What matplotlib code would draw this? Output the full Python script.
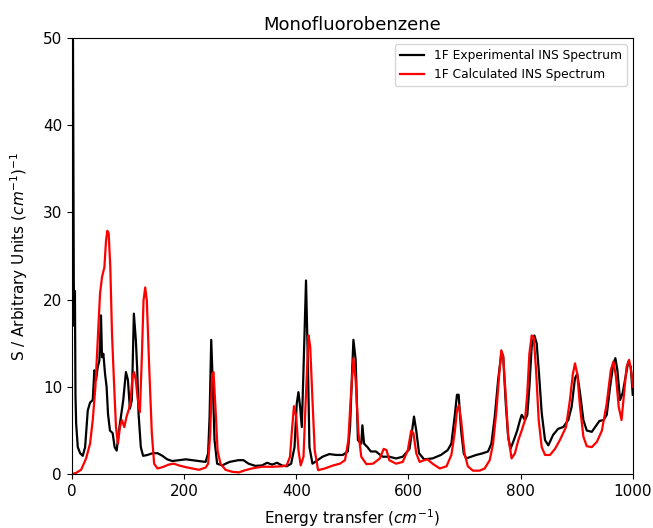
import matplotlib
matplotlib.use('Agg')
import matplotlib.pyplot as plt

# 실험 INS 스펙트럼 (검정)
exp_x = [0.5, 1.5, 2.5, 3.5, 4.5, 5.5, 6.5, 7.7, 10.6, 14.8, 19.5, 23.7, 28.4, 32.5, 37.3,
         40.2, 43.2, 46.2, 49.1, 52, 53.8, 56.2, 59.2, 62, 64.5, 68, 72.8, 76.3, 80, 83.4,
         87.6, 91.7, 96.4, 100, 103.5, 107, 110.6, 114.2, 116.6, 119, 123, 127, 135, 144,
         153, 161.5, 170, 179, 191, 203, 215, 226.6, 238.5, 243, 245.6, 248.5, 251.5, 254.4,
         259, 268, 281, 297, 306, 315, 327, 339, 348, 357, 366, 374.5, 383, 391, 397, 401,
         404, 407, 410, 413, 416, 417.5, 419, 421, 423.6, 429, 447, 459, 471, 483, 492, 496,
         500, 502, 506, 510, 516, 518, 521, 527, 533, 542, 554, 566, 578, 590, 602, 606, 610,
         614, 619, 628, 643, 658, 670, 676.6, 682.5, 686.6, 689.6, 694, 698.6, 703, 712, 721,
         733, 742, 748, 754, 760, 766, 769, 773.6, 777.8, 782, 788, 794, 799, 802, 808, 812,
         815.7, 819.8, 824.6, 828.7, 832.9, 837.7, 843.6, 849.5, 858, 867, 876, 885, 891, 897,
         901, 906, 912, 918, 927, 933, 940.6, 948, 953.6, 959.6, 965.5, 969, 972.6, 977.4, 982,
         986.8, 992, 996.4, 1000]
exp_y = [17, 60, 42, 22, 17, 21, 9, 5.8, 3.1, 2.4, 2.1, 3.1, 7.3, 8.2, 8.5,
         11.9, 10.8, 12.3, 13, 18.2, 13.4, 13.8, 11.5, 10, 6.9, 5, 4.7, 3.1, 2.7, 4.7,
         6.6, 8.5, 11.7, 10.8, 7.5, 8.5, 18.4, 15.3, 11.9, 6.9, 3.1, 2.1, 2.2, 2.4,
         2.4, 2.1, 1.7, 1.5, 1.6, 1.7, 1.6, 1.5, 1.4, 2.4, 6.6, 15.4, 10, 3.9,
         1.2, 1.0, 1.4, 1.6, 1.6, 1.2, 0.95, 1.0, 1.3, 1.1, 1.3, 1.0, 0.9, 1.2, 3.1, 8.1,
         9.4, 7.7, 5.4, 11.9, 19, 22.2, 18, 12.3, 3.1, 1.2, 2.0, 2.3, 2.2, 2.2, 2.6, 5.4,
         12.3, 15.4, 13.1, 3.9, 3.5, 5.6, 3.5, 3.1, 2.6, 2.6, 2.0, 2.0, 1.8, 2.0, 2.9, 4.7, 6.6,
         5.0, 2.4, 1.7, 1.8, 2.2, 2.75, 3.5, 6.6, 9.1, 9.1, 5.0, 2.4, 1.8, 2.0, 2.2,
         2.4, 2.6, 3.5, 6.6, 10.8, 14.0, 13.5, 8.1, 4.3, 2.9, 3.9, 5.0, 6.2, 6.8, 6.2, 6.8,
         10, 14.6, 15.9, 15.0, 11.5, 7.0, 3.9, 3.3, 4.5, 5.2, 5.4, 6.2, 7.7, 11.0,
         11.5, 9.3, 6.2, 5.0, 4.85, 5.4, 6.1, 6.2, 6.8, 10, 12.7, 13.3, 11.9, 8.5, 9.3,
         11, 12.9, 12.3, 9.1]

# 계산 INS 스펙트럼 (빨강)
calc_x = [0, 7.7, 16.6, 25.4, 32.5, 37.3, 42, 46.2, 50.3, 53.8, 58, 61, 63.3, 65.7, 68.6,
          71.6, 75, 78.7, 82.2, 85.8, 89.3, 93.5, 97.6, 102, 105, 108, 111, 114, 117.7, 121.3,
          124.8, 127.8, 130.8, 133.7, 137.9, 142.6, 146.7, 152.7, 161.5, 173, 182, 191, 203,
          215, 226.6, 238.5, 243, 246.7, 250, 252.6, 256, 259.8, 265, 274, 285.8, 297.6, 309,
          321, 339, 357, 374.5, 383, 389, 392, 396, 400, 404, 408, 413, 417, 422, 425, 429,
          433, 439, 451, 466, 478, 487, 493, 497, 502, 506, 511, 516, 525, 537, 549, 556, 561,
          566, 578, 590, 599, 605, 609, 614, 620, 628, 634, 643, 656, 668, 676.6, 682.5, 686.6,
          690, 694, 700, 706, 715, 727, 736, 745, 751, 757, 762, 765.6, 769, 773.6, 778, 784,
          790, 796, 802, 808, 812, 815.7, 819.8, 823.5, 827.6, 832.3, 837.7, 843.6, 852.5,
          861.4, 870, 881, 888, 893, 897, 901, 906, 912, 918, 927, 936, 945, 953.6, 960.8,
          965.5, 970, 975, 980, 984.6, 989, 993.5, 998, 1000]
calc_y = [0, 0.15, 0.5, 1.8, 3.5, 6.2, 10, 15.3, 20.7, 22.6, 23.7, 26.8, 27.9, 27.6, 23.7,
          16.1, 10.8, 5.4, 3.5, 5.4, 6.2, 5.4, 6.6, 7.5, 8.5, 11.1, 11.7, 10.8, 8.5, 7.1,
          13.4, 19.9, 21.4, 19.9, 12.3, 4.7, 1.2, 0.65, 0.8, 1.1, 1.2, 1.0, 0.8,
          0.65, 0.5, 0.75, 1.2, 4.7, 11.5, 11.7, 7.7, 2.7, 1.2, 0.5, 0.27, 0.2, 0.45,
          0.65, 0.85, 0.85, 0.9, 1.0, 2.0, 4.7, 7.8, 6.6, 2.75, 1.0, 2.0, 8.5, 15.9, 14.6, 8.5,
          2.75, 0.45, 0.65, 1.0, 1.2, 1.6, 3.9, 8.5, 13.3, 10.8, 4.7, 2.0, 1.15, 1.2, 1.8, 2.9, 2.75,
          1.6, 1.2, 1.4, 2.75, 5.0, 4.7, 2.4, 1.4, 1.6, 1.7, 1.2, 0.65, 0.9, 2.2, 4.7, 7.3,
          7.9, 6.2, 2.4, 0.9, 0.4, 0.4, 0.65, 1.6, 3.5, 7.3, 11.5, 14.2, 13.5, 8.9, 4.3, 1.8,
          2.4, 3.9, 5.0, 6.2, 9.3, 13.8, 15.9, 15.7, 11.9, 6.2, 3.1, 2.2, 2.2,
          2.9, 3.9, 5.4, 8.5, 11.4, 12.7, 11.5, 7.7, 4.3, 3.2, 3.1, 3.7, 5.0, 8.1, 11.9,
          12.9, 11.2, 7.7, 6.2, 9.3, 12.3, 13.1, 11.5, 10]

plt.rcParams['font.size'] = 11

fig = plt.figure(figsize=(6.53, 5.28), dpi=100)
ax = fig.add_axes([0.110, 0.102, 0.859, 0.826])

ax.plot(exp_x, exp_y, color='black', lw=1.6, label='1F Experimental INS Spectrum')
ax.plot(calc_x, calc_y, color='red', lw=1.6, label='1F Calculated INS Spectrum')

ax.set_xlim(0, 1000)
ax.set_ylim(0, 50)
ax.set_title('Monofluorobenzene', fontsize=13)
ax.set_xlabel('Energy transfer ($cm^{-1}$)', labelpad=6)
ax.set_ylabel('S / Arbitrary Units ($cm^{-1}$)$^{-1}$', labelpad=9)
ax.legend(loc='upper right', fontsize=8.8)

fig.savefig('out.png', dpi=100)
